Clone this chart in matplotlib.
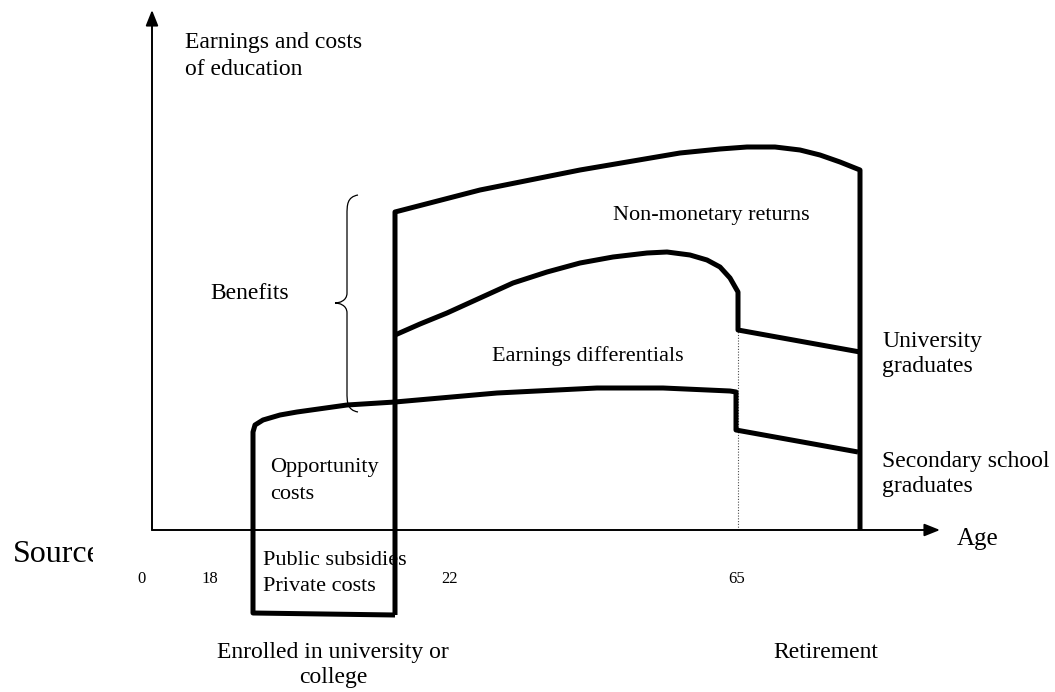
#!/usr/bin/env python3
"""Schematic of costs and benefits of higher education over the life cycle."""

import matplotlib

matplotlib.use("Agg")
import matplotlib.pyplot as plt
from matplotlib.path import Path
from matplotlib.patches import PathPatch
from matplotlib.transforms import Bbox, TransformedBbox

plt.rcParams["font.family"] = ["Liberation Serif", "DejaVu Serif"]

# horizontal position (age axis, schematic units) and height above the age axis
upper_x = [395, 395, 480, 580, 680, 720, 747, 775, 800, 820, 840, 860, 860]
upper_h = [-85, 318, 340, 360, 377, 381, 383, 383, 380, 375, 368, 360, 0]

univ_x = [395, 420, 447, 480, 513, 547, 580, 613, 647, 667, 690, 707, 720, 730, 738, 738, 860]
univ_h = [195, 206, 217, 232, 247, 258, 267, 273, 277, 278, 275, 270, 263, 252, 238, 200, 178]

sec_x = [395, 253, 253, 255, 263, 280, 297, 347, 395, 497, 597, 663, 730, 736, 736, 858]
sec_h = [-85, -83, 98, 105, 110, 115, 118, 125, 128, 137, 142, 142, 139, 138, 100, 78]

retire_x = 738
retire_top = 200

axis_origin = (152, 0)
x_axis_end = 940
y_axis_end = 520

tick_labels = ["0", "18", "22", "65"]
tick_x = [142, 210, 450, 737]

brace_x = [358, 347, 335]          # outer end, spine, tip
brace_h = [335, 227, 118]          # top, tip, bottom

TEXT = 17
SMALL = 16


def main():
    fig = plt.figure(figsize=(10.55, 6.92), dpi=100)
    ax = fig.add_axes([0, 0, 1, 1])
    ax.set_xlim(0, 1055)
    ax.set_ylim(530 - 692, 530)
    ax.axis("off")

    # axes with arrows
    arrow = dict(arrowstyle="-|>,head_length=0.55,head_width=0.22", lw=1.4,
                 color="black", mutation_scale=17, shrinkA=0, shrinkB=0)
    ax.annotate("", xy=(axis_origin[0], y_axis_end), xytext=axis_origin, arrowprops=arrow)
    ax.annotate("", xy=(x_axis_end, 0), xytext=axis_origin, arrowprops=arrow)

    lw = 3.6
    kw = dict(color="black", lw=lw, solid_joinstyle="round", solid_capstyle="butt", zorder=3)
    ax.plot(upper_x, upper_h, **kw)
    ax.plot(univ_x, univ_h, **kw)
    ax.plot(sec_x, sec_h, **kw)
    ax.plot([retire_x, retire_x], [0, retire_top], color="0.3", lw=0.8,
            linestyle=(0, (1, 1.5)), zorder=2)

    # curly brace next to "Benefits"
    xo, xs, xt = brace_x
    top, mid, bot = brace_h
    verts = [
        (xo, top), (xs, top - 2), (xs, top - 10), (xs, top - 20),
        (xs, mid + 10),
        (xs, mid + 2), (xt + 4, mid), (xt, mid),
        (xt + 4, mid), (xs, mid - 2), (xs, mid - 10),
        (xs, bot + 20),
        (xs, bot + 10), (xs, bot + 2), (xo, bot),
    ]
    codes = [Path.MOVETO, Path.CURVE4, Path.CURVE4, Path.CURVE4,
             Path.LINETO,
             Path.CURVE4, Path.CURVE4, Path.CURVE4,
             Path.CURVE4, Path.CURVE4, Path.CURVE4,
             Path.LINETO,
             Path.CURVE4, Path.CURVE4, Path.CURVE4]
    ax.add_patch(PathPatch(Path(verts, codes), fill=False, lw=0.9, color="black"))

    def txt(x, y, s, size=TEXT, ha="left", **extra):
        return ax.text(x, y, s, fontsize=size, ha=ha, va="baseline", zorder=2, **extra)

    txt(185, 482, "Earnings and costs")
    txt(185, 455, "of education")
    txt(210, 231, "Benefits")
    txt(613, 310, "Non-monetary returns", SMALL)
    txt(492, 169, "Earnings differentials", SMALL)
    txt(270, 58, "Opportunity", SMALL)
    txt(270, 31, "costs", SMALL)
    txt(263, -35, "Public subsidies", SMALL)
    txt(263, -61, "Private costs", SMALL)
    txt(882, 183, "University")
    txt(882, 158, "graduates")
    txt(882, 63, "Secondary school")
    txt(882, 38, "graduates")
    txt(957, -15, "Age", 18)
    txt(333, -128, "Enrolled in university or", ha="center")
    txt(333, -153, "college", ha="center")
    txt(826, -128, "Retirement", ha="center")

    for lab, x in zip(tick_labels, tick_x):
        txt(x, -53, lab, 12, ha="center")

    src = txt(13, -32, "Source", 23)
    src.set_clip_box(TransformedBbox(Bbox.from_extents(0, -162, 93, 530), ax.transData))
    src.set_clip_on(True)

    fig.savefig("out.png", dpi=100)
    plt.close(fig)


if __name__ == "__main__":
    main()
